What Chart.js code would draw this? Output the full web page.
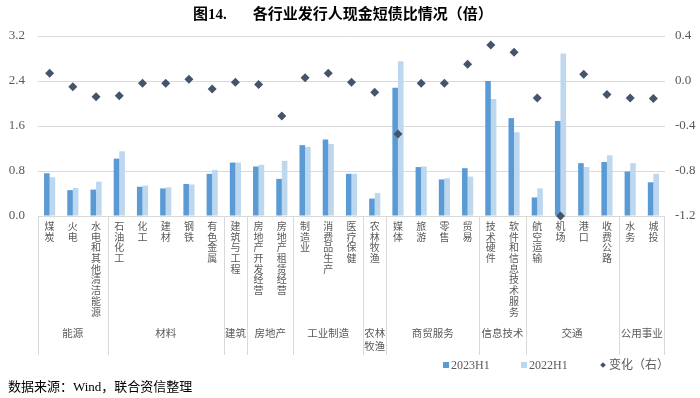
<!DOCTYPE html>
<html>
<head>
<meta charset="utf-8">
<script src="https://cdn.jsdelivr.net/npm/chart.js@4.4.0/dist/chart.umd.min.js"></script>
<style>
  body { margin: 0; background: #fff; }
  #wrap { position: relative; width: 700px; height: 398px; }
  #myChart { position: absolute; left: 0; top: 0; }
  .txt { position: absolute; white-space: nowrap; font-family: 'Liberation Serif', 'Noto Sans CJK SC', serif; }
  .title { left: 193px; top: 5px; font-size: 15px; font-weight: bold; color: #000; line-height: 18px; }
  .leg { top: 357px; font-size: 12px; color: #595959; line-height: 16px; }
  .sq { display: inline-block; width: 6px; height: 6px; margin-right: 2px; vertical-align: 1px; }
  .dia { display: inline-block; width: 4px; height: 4px; background: #44546A; transform: rotate(45deg); margin-right: 4px; vertical-align: 2px; }
  .src { left: 8px; top: 379px; font-size: 13px; color: #000; line-height: 16px; }
</style>
</head>
<body>
<div id="wrap">
  <canvas id="myChart" width="700" height="398"></canvas>
  <div class="txt title">图14.<span style="margin-left:26px">各行业发行人现金短债比情况（倍）</span></div>
  <div class="txt leg" style="left:443px"><span class="sq" style="background:#5B9BD5"></span>2023H1</div>
  <div class="txt leg" style="left:521px"><span class="sq" style="background:#BDD7EE"></span>2022H1</div>
  <div class="txt leg" style="left:601px"><span class="dia"></span>变化（右）</div>
  <div class="txt src">数据来源：Wind，联合资信整理</div>
</div>
<script>
// données
const categories = ['煤炭', '火电', '水电和其他清洁能源', '石油化工', '化工', '建材', '钢铁', '有色金属',
  '建筑与工程', '房地产开发经营', '房地产租赁经营', '制造业', '消费品生产', '医疗保健', '农林牧渔',
  '媒体', '旅游', '零售', '贸易', '技术硬件', '软件和信息技术服务', '航空运输', '机场', '港口', '收费公路',
  '水务', '城投']
const groupNames = ['能源', '材料', '建筑', '房地产', '工业制造', '农林\n牧渔', '商贸服务', '信息技术', '交通', '公用事业']
const groupSizes = [3, 5, 1, 2, 3, 1, 4, 2, 4, 2]

const h2023 = [0.76, 0.46, 0.47, 1.02, 0.52, 0.49, 0.57, 0.75, 0.95, 0.88, 0.66, 1.26, 1.36, 0.75, 0.31,
  2.28, 0.87, 0.65, 0.85, 2.40, 1.74, 0.33, 1.69, 0.94, 0.96, 0.79, 0.60]
const h2022 = [0.69, 0.50, 0.61, 1.15, 0.54, 0.51, 0.56, 0.82, 0.95, 0.91, 0.98, 1.23, 1.28, 0.75, 0.41,
  2.75, 0.88, 0.67, 0.70, 2.08, 1.49, 0.49, 2.89, 0.87, 1.08, 0.94, 0.75]
const change = [0.07, -0.05, -0.14, -0.13, -0.02, -0.02, 0.015, -0.07, -0.01, -0.03, -0.31, 0.03, 0.07, -0.01, -0.10,
  -0.47, -0.02, -0.02, 0.15, 0.32, 0.255, -0.15, -1.2, 0.06, -0.12, -0.15, -0.155]

const leftTicks = { min: 0, max: 3.2, step: 0.8 }
const rightTicks = { min: -1.2, max: 0.4, step: 0.4 }

const fontFamily = "'Liberation Serif', 'Noto Sans CJK SC', serif"
const textGray = '#595959'
const gridGray = '#d9d9d9'

// lignes de séparation et noms des groupes sous l'axe
const groupLines = {
  id: 'groupLines',
  afterDraw(chart) {
    const ctx = chart.ctx
    const area = chart.chartArea
    const x = chart.scales.x
    const half = (x.getPixelForValue(1) - x.getPixelForValue(0)) / 2
    const bottom = area.bottom + 139
    ctx.save()
    ctx.strokeStyle = gridGray
    ctx.lineWidth = 1
    ctx.fillStyle = textGray
    ctx.font = '10.5px ' + fontFamily
    ctx.textAlign = 'center'
    ctx.textBaseline = 'middle'
    let start = 0
    groupNames.forEach((name, i) => {
      const end = start + groupSizes[i] - 1
      const left = x.getPixelForValue(start) - half
      const right = x.getPixelForValue(end) + half
      const lx = Math.round(left) + 0.5
      ctx.beginPath()
      ctx.moveTo(lx, area.bottom)
      ctx.lineTo(lx, bottom)
      ctx.stroke()
      if (i === groupNames.length - 1) {
        const rx = Math.round(right) - 0.5
        ctx.beginPath()
        ctx.moveTo(rx, area.bottom)
        ctx.lineTo(rx, bottom)
        ctx.stroke()
      }
      name.split('\n').forEach((t, k) => {
        ctx.fillText(t, (left + right) / 2, area.bottom + 118 + k * 13.5)
      })
      start = end + 1
    })
    ctx.restore()
  }
}

new Chart(
  document.getElementById('myChart'),
  {
    type: 'bar',
    data: {
      labels: categories.map(c => c.split('')), // une lettre par ligne
      datasets: [
        {
          type: 'line',
          label: '变化（右）',
          data: change,
          yAxisID: 'y1',
          showLine: false,
          pointStyle: 'rectRot',
          pointRadius: 4.5,
          pointBackgroundColor: '#44546A',
          pointBorderColor: '#44546A',
          borderWidth: 0,
          clip: false,
          order: 0
        },
        {
          label: '2023H1',
          data: h2023,
          backgroundColor: '#5B9BD5',
          yAxisID: 'y',
          categoryPercentage: 0.48,
          barPercentage: 1,
          order: 1
        },
        {
          label: '2022H1',
          data: h2022,
          backgroundColor: '#BDD7EE',
          yAxisID: 'y',
          categoryPercentage: 0.48,
          barPercentage: 1,
          order: 1
        }
      ]
    },
    options: {
      responsive: false,
      animation: false,
      layout: { padding: { top: 36, left: 0, right: 0, bottom: 0 } },
      scales: {
        x: {
          grid: { display: false, drawTicks: false },
          border: { display: false },
          ticks: {
            autoSkip: false,
            maxRotation: 0,
            minRotation: 0,
            padding: 6,
            color: textGray,
            font: { family: fontFamily, size: 10, lineHeight: 1.07 }
          },
          afterFit: s => { s.height = 182 }
        },
        y: {
          position: 'left',
          min: leftTicks.min,
          max: leftTicks.max,
          grid: { color: gridGray, drawTicks: false },
          border: { display: false },
          ticks: {
            stepSize: leftTicks.step,
            padding: 13,
            color: textGray,
            font: { family: fontFamily, size: 13 },
            callback: v => v.toFixed(1)
          },
          afterFit: s => { s.width = 38 }
        },
        y1: {
          position: 'right',
          min: rightTicks.min,
          max: rightTicks.max,
          grid: { display: false, drawTicks: false },
          border: { display: false },
          ticks: {
            stepSize: rightTicks.step,
            padding: 10,
            color: textGray,
            font: { family: fontFamily, size: 13 },
            callback: v => v.toFixed(1)
          },
          afterFit: s => { s.width = 35 }
        }
      },
      plugins: {
        legend: { display: false },
        tooltip: { enabled: false }
      }
    },
    plugins: [groupLines]
  }
)
</script>
</body>
</html>
